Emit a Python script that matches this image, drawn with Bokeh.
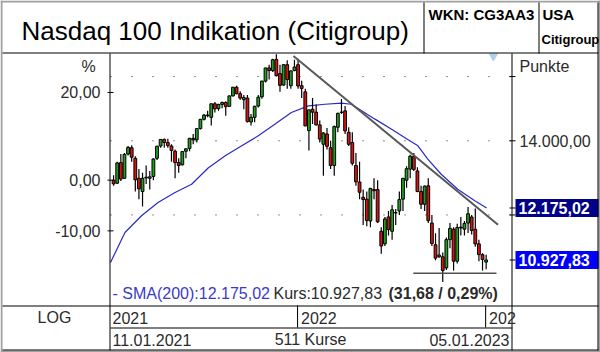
import math
import pandas as pd
from bokeh.plotting import figure
from bokeh.models import (Range1d, Label, BoxAnnotation, ColumnDataSource, Grid)
from bokeh.embed import file_html
from bokeh.resources import INLINE

# ---------------- data ----------------
week_starts = [
    "2021-01-11", "2021-01-18", "2021-01-25", "2021-02-01", "2021-02-08", "2021-02-15", "2021-02-22",
    "2021-03-01", "2021-03-08", "2021-03-15", "2021-03-22", "2021-03-29", "2021-04-05", "2021-04-12",
    "2021-04-19", "2021-04-26", "2021-05-03", "2021-05-10", "2021-05-17", "2021-05-24", "2021-05-31",
    "2021-06-07", "2021-06-14", "2021-06-21", "2021-06-28", "2021-07-05", "2021-07-12", "2021-07-19",
    "2021-07-26", "2021-08-02", "2021-08-09", "2021-08-16", "2021-08-23", "2021-08-30", "2021-09-06",
    "2021-09-13", "2021-09-20", "2021-09-27", "2021-10-04", "2021-10-11", "2021-10-18", "2021-10-25",
    "2021-11-01", "2021-11-08", "2021-11-15", "2021-11-22", "2021-11-29", "2021-12-06", "2021-12-13",
    "2021-12-20", "2021-12-27",
    "2022-01-03", "2022-01-10", "2022-01-17", "2022-01-24", "2022-01-31", "2022-02-07", "2022-02-14",
    "2022-02-21", "2022-02-28", "2022-03-07", "2022-03-14", "2022-03-21", "2022-03-28", "2022-04-04",
    "2022-04-11", "2022-04-18", "2022-04-25", "2022-05-02", "2022-05-09", "2022-05-16", "2022-05-23",
    "2022-05-30", "2022-06-06", "2022-06-13", "2022-06-20", "2022-06-27", "2022-07-04", "2022-07-11",
    "2022-07-18", "2022-07-25", "2022-08-01", "2022-08-08", "2022-08-15", "2022-08-22", "2022-08-29",
    "2022-09-05", "2022-09-12", "2022-09-19", "2022-09-26", "2022-10-03", "2022-10-10", "2022-10-17",
    "2022-10-24", "2022-10-31", "2022-11-07", "2022-11-14", "2022-11-21", "2022-11-28", "2022-12-05",
    "2022-12-12", "2022-12-19", "2022-12-26",
    "2023-01-02",
]
opens = [
    12900, 12820, 13380, 12950, 13620, 13800, 13500, 12950, 12600, 12960, 12950, 13000, 13500, 13850,
    14040, 13950, 13850, 13700, 13380, 13320, 13700, 13780, 14070, 14030, 14360, 14640, 14770, 14700,
    15120, 14970, 15100, 15160, 15040, 15370, 15650, 15440, 15250, 15300, 14560, 14700, 15050, 15340,
    15850, 16290, 16200, 16580, 16100, 15720, 16400, 15700, 16200,
    16400, 15700, 15500, 14300, 14950, 14860, 14470, 13900, 14200, 13800, 13300, 14400, 14850, 14900,
    14250, 13950, 13300, 12850, 12450, 12400, 11850, 12650, 12650, 11600, 11300, 11950, 11600, 12050,
    12100, 12400, 12900, 13200, 13550, 13150, 12600, 12270, 12750, 11800, 11280, 11000, 11000, 10750,
    11400, 11650, 10900, 11700, 11650, 11800, 11950, 11650, 11300, 11050,
    10880,
]
highs = [
    13030, 13400, 13620, 13650, 13850, 13870, 13560, 13200, 13100, 13300, 13150, 13500, 13850, 14050,
    14070, 14060, 13900, 13750, 13500, 13700, 13790, 14090, 14200, 14380, 14650, 14800, 14900, 15130,
    15180, 15120, 15190, 15200, 15380, 15660, 15700, 15520, 15400, 15400, 14800, 15060, 15400, 15860,
    16300, 16400, 16600, 16760, 16400, 16420, 16550, 16200, 16570,
    16600, 15860, 15600, 14900, 15300, 15100, 14600, 14250, 14380, 14000, 14450, 14850, 15270, 15050,
    14400, 14250, 13650, 13400, 12650, 12600, 12700, 12950, 12900, 11700, 11950, 12100, 12250, 12150,
    12600, 12950, 13280, 13600, 13650, 13250, 12750, 12760, 12950, 12000, 11550, 11680, 11100, 11450,
    11800, 11700, 11780, 11950, 11850, 12200, 12000, 12160, 11400, 11080,
    11050,
]
lows = [
    12750, 12800, 12880, 12940, 13580, 13400, 12600, 12400, 12210, 12800, 12650, 12900, 13450, 13800,
    13800, 13800, 13400, 12950, 13100, 13300, 13500, 13700, 13900, 13950, 14330, 14600, 14700, 14450,
    14850, 14900, 14980, 14750, 15030, 15350, 15420, 15250, 14950, 14540, 14450, 14550, 15000, 15280,
    15800, 15900, 16150, 16000, 15500, 15700, 15600, 15600, 16180,
    15600, 15300, 14430, 13720, 14500, 14450, 13950, 13020, 13750, 13200, 13020, 14250, 14800, 14200,
    13850, 13300, 12750, 12400, 11750, 11720, 11700, 12400, 11800, 11070, 11250, 11500, 11400, 11750,
    12000, 12100, 12700, 12950, 13150, 12580, 12150, 12100, 11800, 11250, 10920, 10980, 10440, 10700,
    11200, 10690, 10850, 11500, 11500, 11560, 11520, 11230, 10900, 10690,
    10720,
]
closes = [
    12800, 13370, 12930, 13610, 13810, 13530, 12910, 12670, 12950, 12980, 12990, 13480, 13845, 14040,
    13950, 13860, 13720, 13380, 13300, 13690, 13770, 14070, 14030, 14360, 14640, 14770, 14750, 15120,
    14960, 15100, 15160, 15030, 15370, 15650, 15440, 15300, 15320, 14570, 14700, 15040, 15330, 15850,
    16290, 16200, 16570, 16030, 15710, 16400, 15900, 16190, 16320,
    15690, 15610, 14440, 14930, 14860, 14470, 14050, 14230, 13840, 13300, 14420, 14820, 14860, 14290,
    13900, 13360, 12855, 12580, 12390, 11860, 12680, 12620, 11830, 11250, 11900, 11640, 12130, 12060,
    12390, 12950, 13210, 13560, 13190, 12600, 12270, 12740, 11860, 11310, 10970, 11040, 10690, 11400,
    11670, 10900, 11690, 11680, 11790, 12030, 11620, 11300, 11050, 10940,
    10927.83,
]

sma_dates = [
    "2021-01-07", "2021-02-04", "2021-03-08", "2021-04-09", "2021-05-12", "2021-06-13", "2021-07-15",
    "2021-08-17", "2021-09-18", "2021-10-20", "2021-11-21", "2021-12-23", "2022-01-25", "2022-02-26",
    "2022-03-30", "2022-04-18", "2022-05-08", "2022-06-03", "2022-07-05", "2022-08-06", "2022-08-25",
    "2022-09-13", "2022-10-09", "2022-11-10", "2022-12-13", "2023-01-05",
]
sma_values = [
    10870, 11570, 11980, 12315, 12575, 12790, 13230, 13570, 13855, 14145, 14490, 14850, 15055, 15105,
    15140, 15105, 14900, 14645, 14340, 14030, 13855, 13475, 13060, 12660, 12360, 12175.02,
]

trend_dates = ["2021-12-27", "2023-01-27"]
trend_values = [16700, 11760]
support_dates = ["2022-08-16", "2023-01-24"]
support_values = [10632, 10632]
marker_dates = ["2023-01-18"]
marker_values = [16690]

base_close = 12900.0          # first quote 11.01.2021 = 0 %
pct_ticks = [20, 0, -10]
price_grid = [16000, 14000, 12000]
price_labels = [14000]
last_close = 10927.83
sma_last = 12175.02
change_abs = 31.68
change_pct = 0.29
n_quotes = 511
first_day = "11.01.2021"
last_day = "05.01.2023"
year_starts = ["2022-01-03", "2023-01-02"]
view_dates = ["2021-01-07", "2023-02-24"]     # dates at the left / right edge of the price panel
view_prices = [16821, 9941]                   # prices at the top / bottom edge of the price panel

# ---------------- layout (canvas pixels) ----------------
W, H = 600, 352
FL, FR, FT, FB = 110, 512, 52, 305  # price panel
FONT = "Liberation Sans"
TXT = "#2b2b2b"
DAY = 86400000


def de(v):
    return f"{v:,.2f}".replace(",", "X").replace(".", ",").replace("X", ".")


def ms(d):
    return pd.Timestamp(d).value / 1e6


# extend the price panel ranges to the whole canvas
t0, t1 = ms(view_dates[0]), ms(view_dates[1])
kx = (FR - FL) / (t1 - t0)
x_start, x_end = t0 - FL / kx, t1 + (W - FR) / kx
ly = math.log(view_prices[0] / view_prices[1]) / (FB - FT)
y_top = view_prices[0] * math.exp(FT * ly)
y_bot = view_prices[1] * math.exp(-(H - FB) * ly)

p = figure(width=W, height=H, x_axis_type="datetime", y_axis_type="log",
           x_range=Range1d(x_start, x_end), y_range=Range1d(y_bot, y_top),
           x_axis_location=None, y_axis_location=None,
           output_backend="svg", toolbar_location=None,
           min_border=0, min_border_left=0, min_border_right=0,
           min_border_top=0, min_border_bottom=0)
p.center = [r for r in p.center if not isinstance(r, Grid)]
p.extra_x_ranges = {"px": Range1d(0, W)}
p.outline_line_color = None
p.background_fill_color = "white"
p.border_fill_color = "white"


def sx(cx):
    return cx


def sy(cy):
    return H - cy


# dotted grid of the price panel
p.segment(x0=[FL] * len(price_grid), x1=[FR] * len(price_grid), y0=price_grid, y1=price_grid,
          x_range_name="px", line_color="#222222", line_width=1, line_dash="1 20")

# SMA, candles, lines
src = ColumnDataSource(dict(
    x=[pd.Timestamp(d) + pd.Timedelta(days=2) for d in week_starts],
    open=opens, high=highs, low=lows, close=closes,
    color=["#1f9e1f" if c >= o else "#d61414" for o, c in zip(opens, closes)],
))
p.line([pd.Timestamp(d) for d in sma_dates], sma_values, line_color="#2a2ac8", line_width=1.2)
p.segment("x", "high", "x", "low", source=src, line_color="black", line_width=1.2)
p.vbar(x="x", width=5.4 * DAY, top="open", bottom="close", source=src,
       fill_color="color", line_color="black", line_width=1)
p.line([pd.Timestamp(d) for d in trend_dates], trend_values, line_color="#585858", line_width=2)
p.line([pd.Timestamp(d) for d in support_dates], support_values, line_color="#505050", line_width=1.5)
p.scatter([pd.Timestamp(d) for d in marker_dates], marker_values, marker="inverted_triangle",
          size=8, fill_color="#a8d0f0", line_color="#a8d0f0")

# axis ticks
left_ticks = [base_close * (1 + t / 100) for t in pct_ticks]
right_ticks = price_grid + [sma_last, last_close]
p.segment(x0=[FL - 3] * len(left_ticks), x1=[FL + 3] * len(left_ticks), y0=left_ticks, y1=left_ticks,
          x_range_name="px", line_color="black", line_width=1)
p.segment(x0=[FR - 3] * len(right_ticks), x1=[FR + 3] * len(right_ticks), y0=right_ticks, y1=right_ticks,
          x_range_name="px", line_color="black", line_width=1)

# value boxes on the right axis (background)
box_vals = [sma_last, last_close]
box_cols = ["#000088", "#0000ff"]
p.rect(x=[(FR + 3 + W) / 2] * 2, y=box_vals, width=W - FR - 3, height=18, height_units="screen",
       x_range_name="px", fill_color=box_cols, line_color=None)


def box(x0, y0, x1, y1, color="black"):
    p.add_layout(BoxAnnotation(left=sx(x0), right=sx(x1), top=sy(y0), bottom=sy(y1),
                               left_units="screen", right_units="screen",
                               top_units="screen", bottom_units="screen",
                               fill_color=color, fill_alpha=1, line_color=None))


def text(cx, cy, s, size="16px", align="left", color=TXT, bold=False):
    p.add_layout(Label(x=sx(cx), y=sy(cy), x_units="screen", y_units="screen", text=s,
                       text_font=FONT, text_font_size=size, text_align=align,
                       text_baseline="middle", text_color=color,
                       text_font_style="bold" if bold else "normal"))


# outer frame
box(0, 0, 600, 2, "#a0a0a0")
box(0, 0, 2, 352, "#a0a0a0")
box(598, 0, 600, 352, "#a0a0a0")
box(0, 350, 600, 352, "#a0a0a0")
box(597, 2, 598, 350)
box(2, 349, 598, 350)
# header cells
box(2, 52, 598, 53)
box(423, 2, 424, 53)
box(538, 2, 539, 53)
# axis lines, right panel & footer
box(109, 53, 110, 350)
box(511, 53, 512, 350)
box(2, 305, 598, 306)
box(110, 327, 512, 328)
for ys in year_starts:
    p.add_layout(BoxAnnotation(left=ms(ys), right=ms(ys) + 2 * DAY, top=sy(305), bottom=sy(327),
                               left_units="data", right_units="data",
                               top_units="screen", bottom_units="screen",
                               fill_color="black", fill_alpha=1, line_color=None))

# header texts
text(21, 30, "Nasdaq 100 Indikation (Citigroup)", size="26px", color="black")
text(428, 14, "WKN: CG3AA3", size="15px", bold=True, color="black")
text(542, 14, "USA", size="15px", bold=True, color="black")
text(541, 39, "Citigroup", size="13px", bold=True, color="black")

# axis titles
text(88, 66, "%", align="center")
text(519, 66, "Punkte")

# tick labels
for t, v in zip(pct_ticks, left_ticks):
    p.add_layout(Label(x=sx(FL - 10), y=v, x_units="screen", y_units="data", text=de(t),
                       text_font=FONT, text_font_size="16px", text_align="right",
                       text_baseline="middle", text_color=TXT))
for v in price_labels:
    p.add_layout(Label(x=sx(FR + 7), y=v, x_units="screen", y_units="data", text=de(v),
                       text_font=FONT, text_font_size="16px", text_align="left",
                       text_baseline="middle", text_color=TXT))

# value box texts
for v in box_vals:
    p.add_layout(Label(x=sx(FR + 6), y=v, x_units="screen", y_units="data", text=de(v),
                       text_font=FONT, text_font_size="16px", text_font_style="bold",
                       text_color="white", text_baseline="middle"))

# info line inside the chart
text(112, 293, f"- SMA(200):{de(sma_last)}", color="#3a3ac8")
text(273, 293, f"Kurs:{de(last_close)}")
text(388, 293, f"({de(change_abs)} / {de(change_pct)}%)", bold=True)

# footer
text(54, 317, "LOG", align="center")
text(112, 317, "2021")
for ys, lab in zip(year_starts, ["2022", "202"]):
    p.add_layout(Label(x=ms(ys), x_units="data", x_offset=4, y=sy(317), y_units="screen",
                       text=lab, text_font=FONT, text_font_size="16px",
                       text_baseline="middle", text_color=TXT))
text(112, 339, first_day)
text(310, 339, f"{n_quotes} Kurse", align="center")
text(509, 339, last_day, align="right")

open("out.html", "w").write(file_html(p, INLINE))
